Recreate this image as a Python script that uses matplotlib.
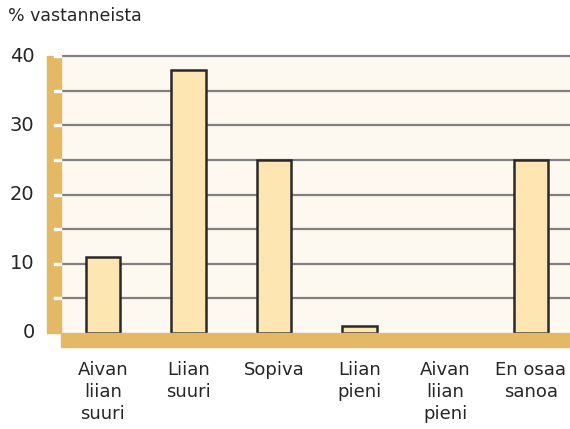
import matplotlib.pyplot as plt
from matplotlib.patches import Rectangle

categories = ["Aivan\nliian\nsuuri", "Liian\nsuuri", "Sopiva", "Liian\npieni",
              "Aivan\nliian\npieni", "En osaa\nsanoa"]
values = [11, 38, 25, 1, 0, 25]
yticks = [0, 10, 20, 30, 40]

W, H = 570, 429
tan = "#e4b864"
cream = "#fdf8f0"
barfill = "#fde6b2"
txt = "#262626"

plt.rcParams['font.family'] = ['DejaVu Sans']

fig = plt.figure(figsize=(W / 100, H / 100), dpi=100)
ax = fig.add_axes([61 / W, (H - 333) / H, (W - 61) / W, 277 / H])
ax.set_facecolor(cream)
ax.set_xlim(-0.49, 5.46)
ax.set_ylim(0, 40)

for y in range(5, 41, 5):
    ax.axhline(y, color="#808080", lw=1.6, zorder=1, clip_on=False)

edges = ["#2a2a2a" if v > 0 else "none" for v in values]
ax.bar(range(len(values)), values, width=0.4, color=barfill,
       edgecolor=edges, linewidth=1.8, zorder=3)

for s in ax.spines.values():
    s.set_visible(False)
ax.set_xticks([])
ax.set_yticks([])

# tan axis bars
fig.patches.append(Rectangle((47 / W, (H - 333) / H), 14 / W, 277 / H,
                             transform=fig.transFigure, color=tan, zorder=0))
fig.patches.append(Rectangle((61 / W, (H - 347) / H), (W - 61) / W, 14 / H,
                             transform=fig.transFigure, color=tan, zorder=0))
# white notches on the left bar
for y in range(5, 41, 5):
    yy = ax.transData.transform((0, y))[1]
    yf = fig.transFigure.inverted().transform((0, yy))[1]
    fig.patches.append(Rectangle((54 / W, yf - 1 / H), 7 / W, 2 / H,
                                 transform=fig.transFigure, color="white", zorder=1))

for t in yticks:
    ax.text(-0.052, t, str(t), transform=ax.get_yaxis_transform(),
            ha="right", va="center", fontsize=14, color=txt)
ax.annotate("% vastanneista", xy=(8 / W, 1 - 16 / H), xycoords="figure fraction",
            ha="left", va="center", fontsize=12.5, color=txt)

for i, c in enumerate(categories):
    ax.annotate(c, xy=(i, 0), xycoords=("data", "axes fraction"),
                xytext=(0, -20), textcoords="offset points",
                ha="center", va="top", fontsize=13, color=txt, linespacing=1.3,
                annotation_clip=False)

fig.savefig("out.png", dpi=100)
